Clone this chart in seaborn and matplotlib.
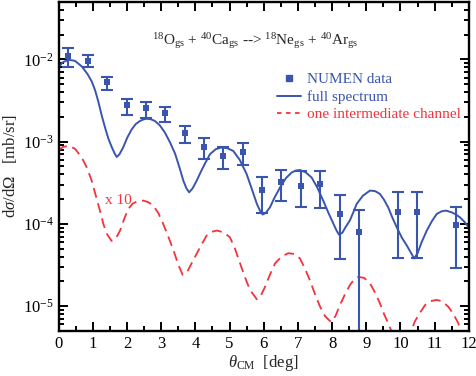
import numpy as np
import pandas as pd
import seaborn as sns
import matplotlib.pyplot as plt
from matplotlib.lines import Line2D
from matplotlib.ticker import MultipleLocator, LogLocator, NullFormatter

# NUMEN data points (theta_CM in deg, cross section in mb/sr)
theta_data = [0.29, 0.86, 1.42, 1.99, 2.56, 3.12, 3.69, 4.26, 4.82, 5.39,
              5.96, 6.52, 7.09, 7.66, 8.22, 8.79, 9.92, 10.49, 11.62]
sigma_data = [1.09e-2, 9.6e-3, 5.3e-3, 2.75e-3, 2.53e-3, 2.2e-3, 1.26e-3, 8.7e-4, 6.6e-4, 7.4e-4,
              2.58e-4, 3.26e-4, 2.91e-4, 3.05e-4, 1.32e-4, 7.9e-5, 1.41e-4, 1.39e-4, 9.6e-5]
sigma_hi = [1.37e-2, 1.14e-2, 6.1e-3, 3.3e-3, 3.05e-3, 2.6e-3, 1.56e-3, 1.12e-3, 8.5e-4, 9.5e-4,
            3.74e-4, 4.55e-4, 4.35e-4, 4.35e-4, 2.26e-4, 1.48e-4, 2.42e-4, 2.42e-4, 1.59e-4]
sigma_lo = [8.0e-3, 8.1e-3, 4.3e-3, 2.1e-3, 1.92e-3, 1.75e-3, 9.7e-4, 6.2e-4, 4.6e-4, 5.2e-4,
            1.35e-4, 1.92e-4, 1.59e-4, 1.56e-4, 3.7e-5, 1e-7, 3.9e-5, 3.9e-5, 2.9e-5]

# full spectrum calculation
theta_full = [0.0, 0.12, 0.29, 0.48, 0.68, 0.85, 0.97, 1.07, 1.16, 1.26, 1.36, 1.46, 1.56, 1.64,
              1.70, 1.78, 1.89, 2.01, 2.14, 2.26, 2.38, 2.48, 2.58, 2.70, 2.82, 2.96, 3.11, 3.26,
              3.41, 3.54, 3.65, 3.74, 3.82, 3.92, 4.04, 4.15, 4.28, 4.43, 4.60, 4.77, 4.94, 5.11,
              5.30, 5.50, 5.66, 5.80, 5.90, 5.97, 6.06, 6.18, 6.32, 6.48, 6.65, 6.82, 6.94, 7.06,
              7.22, 7.40, 7.57, 7.74, 7.90, 8.04, 8.13, 8.20, 8.30, 8.40, 8.52, 8.62, 8.72, 8.90,
              9.11, 9.26, 9.40, 9.52, 9.64, 9.76, 9.89, 10.04, 10.18, 10.30, 10.40, 10.50, 10.62,
              10.77, 10.92, 11.06, 11.20, 11.33, 11.50, 11.62, 11.74, 11.87, 12.0]
sigma_full = [8.0e-3, 9.2e-3, 9.9e-3, 9.6e-3, 8.2e-3, 6.6e-3, 5.4e-3, 4.2e-3, 3.1e-3, 2.1e-3,
              1.48e-3, 1.08e-3, 8.5e-4, 7.2e-4, 6.5e-4, 7.0e-4, 8.5e-4, 1.12e-3, 1.41e-3, 1.64e-3,
              1.78e-3, 1.86e-3, 1.9e-3, 1.87e-3, 1.78e-3, 1.58e-3, 1.29e-3, 9.8e-4, 7.1e-4, 4.8e-4,
              3.35e-4, 2.7e-4, 2.42e-4, 2.7e-4, 3.35e-4, 4.2e-4, 5.4e-4, 7.05e-4, 8.1e-4, 8.5e-4,
              8.3e-4, 7.7e-4, 6.0e-4, 4.04e-4, 2.6e-4, 1.75e-4, 1.42e-4, 1.3e-4, 1.36e-4, 1.58e-4,
              2.1e-4, 2.78e-4, 3.6e-4, 4.22e-4, 4.45e-4, 4.51e-4, 4.25e-4, 3.67e-4, 2.75e-4, 1.92e-4,
              1.34e-4, 1.0e-4, 8.3e-5, 7.4e-5, 7.8e-5, 9.2e-5, 1.1e-4, 1.38e-4, 1.75e-4, 2.2e-4,
              2.54e-4, 2.5e-4, 2.31e-4, 1.96e-4, 1.59e-4, 1.2e-4, 9.1e-5, 6.8e-5, 5.5e-5, 4.5e-5,
              3.8e-5, 4.4e-5, 6.0e-5, 8.3e-5, 1.08e-4, 1.32e-4, 1.42e-4, 1.45e-4, 1.38e-4, 1.3e-4,
              1.2e-4, 1.06e-4, 9.0e-5]

# one intermediate channel (already multiplied by 10)
theta_one = [0.0, 0.12, 0.29, 0.48, 0.68, 0.83, 0.97, 1.09, 1.21, 1.31, 1.41, 1.55, 1.67, 1.80,
             1.92, 2.04, 2.16, 2.29, 2.48, 2.62, 2.77, 2.92, 3.06, 3.21, 3.36, 3.50, 3.63, 3.76,
             3.89, 4.14, 4.33, 4.48, 4.63, 4.82, 5.01, 5.16, 5.31, 5.46, 5.60, 5.80, 5.92, 6.04,
             6.18, 6.33, 6.52, 6.72, 6.90, 7.06, 7.20, 7.35, 7.50, 7.65, 7.80, 7.97, 8.10, 8.23,
             8.38, 8.52, 8.64, 8.77, 8.94, 9.11, 9.26, 9.40, 9.52, 9.64, 10.03, 10.42, 10.57,
             10.72, 10.88, 11.06, 11.23, 11.40, 11.55, 11.69, 12.0]
sigma_one = [7.7e-4, 8.6e-4, 8.9e-4, 8.2e-4, 6.4e-4, 4.8e-4, 3.35e-4, 2.2e-4, 1.45e-4, 1.0e-4,
             7.6e-5, 6.2e-5, 6.6e-5, 8.3e-5, 1.15e-4, 1.52e-4, 1.75e-4, 1.87e-4, 1.92e-4, 1.84e-4,
             1.67e-4, 1.35e-4, 1.0e-4, 7.0e-5, 4.8e-5, 3.2e-5, 2.4e-5, 2.6e-5, 3.3e-5, 5.2e-5,
             7.2e-5, 8.0e-5, 8.3e-5, 7.9e-5, 6.9e-5, 5.0e-5, 3.3e-5, 2.2e-5, 1.57e-5, 1.21e-5,
             1.35e-5, 1.72e-5, 2.4e-5, 3.3e-5, 4.0e-5, 4.4e-5, 4.3e-5, 3.8e-5, 2.9e-5, 2.07e-5,
             1.4e-5, 9.8e-6, 7.5e-6, 6.4e-6, 7.6e-6, 1.03e-5, 1.4e-5, 1.8e-5, 2.1e-5, 2.27e-5,
             2.2e-5, 1.89e-5, 1.45e-5, 1.08e-5, 8.0e-6, 6.2e-6, 2.5e-6, 6.5e-6, 8.3e-6,
             1.03e-5, 1.15e-5, 1.19e-5, 1.14e-5, 9.8e-6, 8.0e-6, 6.2e-6, 2.5e-6]

blue = '#3a55ae'
red = '#f2333c'

sns.set_style('ticks', {'axes.edgecolor': 'black', 'xtick.color': 'black', 'ytick.color': 'black'})
plt.rcParams['font.family'] = ['Liberation Serif', 'DejaVu Serif']
plt.rcParams['mathtext.fontset'] = 'custom'
plt.rcParams['mathtext.rm'] = 'Liberation Serif'
plt.rcParams['mathtext.it'] = 'Liberation Serif:italic'
plt.rcParams['font.size'] = 11

full_df = pd.DataFrame({'theta': theta_full, 'sigma': sigma_full})
one_df = pd.DataFrame({'theta': theta_one, 'sigma': sigma_one})
data_df = pd.DataFrame({'theta': theta_data, 'sigma': sigma_data})

fig, ax = plt.subplots(figsize=(4.76, 3.76), dpi=100)
fig.subplots_adjust(left=0.123, right=0.985, bottom=0.12, top=0.995)

sns.lineplot(data=full_df, x='theta', y='sigma', ax=ax, color=blue, lw=1.4, sort=False)
sns.lineplot(data=one_df, x='theta', y='sigma', ax=ax, color=red, lw=1.3,
             dashes=False, sort=False, linestyle=(0, (5.5, 3.2)))

yerr = [np.array(sigma_data) - np.array(sigma_lo), np.array(sigma_hi) - np.array(sigma_data)]
ax.errorbar(theta_data, sigma_data, yerr=yerr, fmt='none', ecolor=blue,
            elinewidth=1.5, capsize=4.5, capthick=1.5)
sns.scatterplot(data=data_df, x='theta', y='sigma', ax=ax, color=blue, marker='s',
                s=16, edgecolor=blue, linewidth=0, zorder=5)

ax.set_yscale('log')
ax.set_xlim(0, 12)
ax.set_ylim(5e-6, 5e-2)
ax.xaxis.set_major_locator(MultipleLocator(1))
ax.xaxis.set_minor_locator(MultipleLocator(0.5))
ax.yaxis.set_major_locator(LogLocator(base=10, numticks=10))
ax.yaxis.set_minor_locator(LogLocator(base=10, subs=np.arange(2, 10), numticks=10))
ax.yaxis.set_minor_formatter(NullFormatter())
ax.tick_params(which='both', direction='in', top=True, right=True, width=1.4,
               colors='black', labelsize=12)
ax.tick_params(which='major', length=6.5)
ax.tick_params(which='minor', length=3.5)
for s in ax.spines.values():
    s.set_linewidth(1.7)
    s.set_color('black')

ax.set_xlabel(r'$\theta_{\mathrm{CM}}$  [deg]', fontsize=12, labelpad=1)
ax.set_ylabel(r'd$\sigma$/d$\Omega$   [mb/sr]', fontsize=12, labelpad=3)

ax.text(0.48, 0.88, r'$^{18}$O$_{\mathrm{gs}}$ + $^{40}$Ca$_{\mathrm{gs}}$ --> '
        r'$^{18}$Ne$_{\mathrm{gs}}$ + $^{40}$Ar$_{\mathrm{gs}}$',
        transform=ax.transAxes, ha='center', va='center', fontsize=11)
ax.text(1.36, 1.9e-4, 'x 10', color=red, fontsize=11, va='center')

handles = [Line2D([], [], color=blue, marker='s', ms=4, ls='none'),
           Line2D([], [], color=blue, lw=1.4),
           Line2D([], [], color=red, lw=1.3, ls=(0, (2.5, 2.5)))]
leg = ax.legend(handles, ['NUMEN data', 'full spectrum', 'one intermediate channel'],
                loc='upper left', bbox_to_anchor=(0.532, 0.785), frameon=False,
                fontsize=11, handlelength=1.55, handletextpad=0.45, labelspacing=0.25,
                borderpad=0, borderaxespad=0)
for t, c in zip(leg.get_texts(), [blue, blue, red]):
    t.set_color(c)

fig.savefig('out.png', dpi=100)
